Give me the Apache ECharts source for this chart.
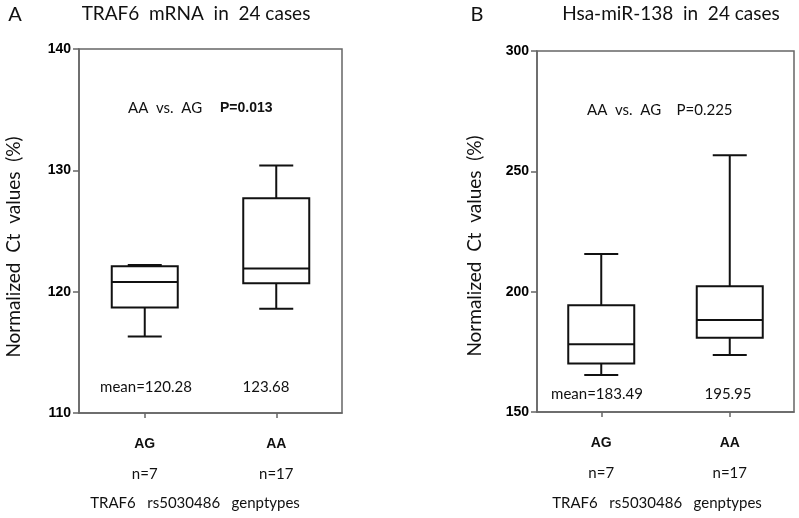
<!DOCTYPE html>
<html>
<head>
<meta charset="utf-8">
<script src="https://cdn.jsdelivr.net/npm/echarts@6/dist/echarts.min.js"></script>
<style>html,body{margin:0;padding:0;background:#fff;}#c{width:799px;height:518px;}</style>
</head>
<body>
<div id="c"></div>
<script>
// ---- data ----
const categories = ['AG', 'AA'];
const counts = ['n=7', 'n=17'];
// [min, Q1, median, Q3, max]
const traf6Box = [
  [116.3, 118.7, 120.8, 122.1, 122.2],
  [118.6, 120.7, 121.9, 127.7, 130.4]
];
const mirBox = [
  [165.4, 170.2, 178.2, 194.4, 215.6],
  [173.7, 180.9, 188.2, 202.2, 256.7]
];
const traf6Ticks = [110, 120, 130, 140];
const mirTicks = [150, 200, 250, 300];
const traf6Means = ['mean=120.28', '123.68'];
const mirMeans = ['mean=183.49', '195.95'];

const chart = echarts.init(document.getElementById('c'), null, {renderer: 'canvas'});

const serifish = 'Lato, "Open Sans", sans-serif';
const boldFont = '"Liberation Sans", Arial, sans-serif';

function renderBox(params, api) {
  const cat = api.value(0);
  const mn = api.coord([cat, api.value(1)]);
  const q1 = api.coord([cat, api.value(2)]);
  const md = api.coord([cat, api.value(3)]);
  const q3 = api.coord([cat, api.value(4)]);
  const mx = api.coord([cat, api.value(5)]);
  const x = mn[0];
  const hw = 33, cw = 17;
  const style = {stroke: '#111', lineWidth: 2, fill: null};
  return {
    type: 'group',
    children: [
      {type: 'rect', shape: {x: x - hw, y: q3[1], width: hw * 2, height: q1[1] - q3[1]}, style: {stroke: '#111', lineWidth: 2, fill: '#fff'}},
      {type: 'line', shape: {x1: x - hw, y1: md[1], x2: x + hw, y2: md[1]}, style: style},
      {type: 'line', shape: {x1: x, y1: q3[1], x2: x, y2: mx[1]}, style: style},
      {type: 'line', shape: {x1: x, y1: q1[1], x2: x, y2: mn[1]}, style: style},
      {type: 'line', shape: {x1: x - cw, y1: mx[1], x2: x + cw, y2: mx[1]}, style: style},
      {type: 'line', shape: {x1: x - cw, y1: mn[1], x2: x + cw, y2: mn[1]}, style: style}
    ]
  };
}

function xAxisCfg(gridIndex) {
  return {
    type: 'category', gridIndex: gridIndex, data: categories,
    boundaryGap: true,
    axisLine: {show: true, lineStyle: {color: '#666', width: 1.5}},
    axisTick: {show: true, alignWithLabel: true, length: 5, lineStyle: {color: '#666', width: 1.5}},
    axisLabel: {
      margin: 16,
      formatter: function (v, i) { return '{b|' + v + '}\n{n|' + counts[i] + '}'; },
      rich: {
        b: {fontFamily: boldFont, fontWeight: 'bold', fontSize: 14, color: '#111', lineHeight: 30},
        n: {fontFamily: serifish, fontSize: 15, color: '#111', lineHeight: 30}
      }
    },
    splitLine: {show: false}
  };
}
function yAxisCfg(gridIndex, ticks) {
  return {
    type: 'value', gridIndex: gridIndex,
    min: ticks[0], max: ticks[ticks.length - 1], interval: ticks[1] - ticks[0],
    axisLine: {show: true, lineStyle: {color: '#666', width: 1.5}},
    axisTick: {show: true, length: 6, lineStyle: {color: '#666', width: 1.5}},
    axisLabel: {fontFamily: boldFont, fontWeight: 700, fontSize: 14, color: '#000', margin: 8},
    splitLine: {show: false}
  };
}

const gridA = {left: 79, top: 49, width: 263, height: 364};
const gridB = {left: 537, top: 51, width: 257, height: 361};

function txt(x, y, text, opts) {
  return {
    type: 'text', x: x, y: y,
    style: Object.assign({text: text, fill: '#111', font: '15px ' + serifish, textAlign: 'center', textVerticalAlign: 'middle'}, opts || {})
  };
}

const graphics = [
  txt(15, 15, 'A', {font: '20px ' + serifish}),
  txt(196, 14, 'TRAF6  mRNA  in  24 cases', {font: '19px ' + serifish}),
  txt(477, 15, 'B', {font: '20px ' + serifish}),
  txt(671, 14, 'Hsa-miR-138  in  24 cases', {font: '19px ' + serifish}),
  {type: 'text', x: 14, y: 247, rotation: Math.PI / 2,
   style: {text: 'Normalized  Ct  values  (%)', fill: '#111', font: '19px ' + serifish, textAlign: 'center', textVerticalAlign: 'middle'}},
  {type: 'text', x: 475, y: 246, rotation: Math.PI / 2,
   style: {text: 'Normalized  Ct  values  (%)', fill: '#111', font: '19px ' + serifish, textAlign: 'center', textVerticalAlign: 'middle'}},
  txt(128, 108, 'AA  vs.  AG', {textAlign: 'left'}),
  txt(220, 108, 'P=0.013', {textAlign: 'left', font: 'bold 14px ' + boldFont}),
  txt(587, 110, 'AA  vs.  AG    P=0.225', {textAlign: 'left'}),
  txt(146, 387, traf6Means[0]),
  txt(266, 387, traf6Means[1]),
  txt(597, 394, mirMeans[0]),
  txt(728, 394, mirMeans[1]),
  txt(195, 503, 'TRAF6   rs5030486   genptypes'),
  txt(657, 503, 'TRAF6   rs5030486   genptypes')
];

chart.setOption({
  animation: false,
  backgroundColor: '#fff',
  grid: [
    Object.assign({show: true, borderColor: '#666', borderWidth: 1.5, backgroundColor: 'transparent'}, gridA),
    Object.assign({show: true, borderColor: '#666', borderWidth: 1.5, backgroundColor: 'transparent'}, gridB)
  ],
  xAxis: [xAxisCfg(0), xAxisCfg(1)],
  yAxis: [yAxisCfg(0, traf6Ticks), yAxisCfg(1, mirTicks)],
  series: [
    {type: 'custom', xAxisIndex: 0, yAxisIndex: 0, renderItem: renderBox,
     encode: {x: 0, y: [1, 2, 3, 4, 5]},
     data: traf6Box.map((b, i) => [i].concat(b))},
    {type: 'custom', xAxisIndex: 1, yAxisIndex: 1, renderItem: renderBox,
     encode: {x: 0, y: [1, 2, 3, 4, 5]},
     data: mirBox.map((b, i) => [i].concat(b))}
  ],
  graphic: graphics
});
</script>
</body>
</html>
